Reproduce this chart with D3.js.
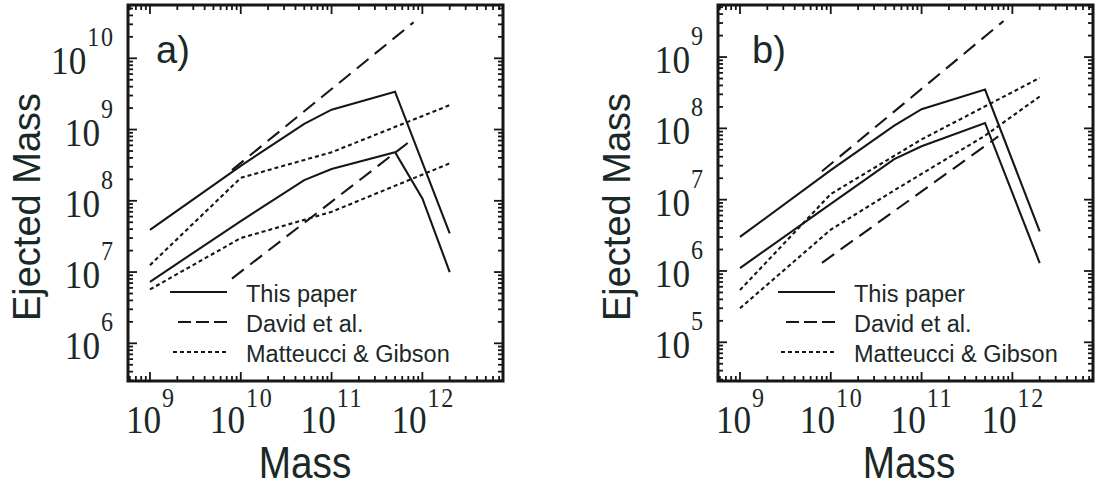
<!DOCTYPE html>
<html><head><meta charset="utf-8">
<script src="https://cdn.jsdelivr.net/npm/d3@7"></script>
<style>body{margin:0;background:#fff}</style></head>
<body><svg id="c" width="1096" height="489" xmlns="http://www.w3.org/2000/svg"></svg>
<script>
// ---------- data ----------
const massThisPaper = [1e9, 1e10, 5e10, 1e11, 5e11, 2e12];
const massThisPaperLowA = [1e9, 1e10, 5e10, 1e11, 5e11, 1e12, 2e12];
const massDavid = [8e9, 8e11];
const massDavidLowB = [8e9, 7e11];
const massMGHigh = [1e9, 1e10, 1e11, 2e12];
const massMGLow = [1e9, 1e10, 5e10, 1e11, 2e12];
const massMGLowB = [1e9, 1e10, 5e10, 1e11, 5e11, 2e12];

// panel a
const aThisPaperHigh = [3.9e7, 3.1e8, 1.2e9, 1.9e9, 3.4e9, 3.5e7];
const aThisPaperLow  = [7.3e6, 5.2e7, 1.95e8, 2.8e8, 4.8e8, 1.08e8, 1.0e7];
const aDavidHigh = [2.7e8, 3.2e10];
const aDavidLow  = [8.1e6, 7.5e8];
const aMGHigh = [1.25e7, 2.1e8, 4.8e8, 2.2e9];
const aMGLow  = [5.7e6, 3.0e7, 5.4e7, 7.0e7, 3.35e8];

// panel b
const bThisPaperHigh = [3.0e6, 2.6e7, 1.09e8, 1.86e8, 3.5e8, 3.6e6];
const bThisPaperLow  = [1.1e6, 8.7e6, 3.7e7, 5.6e7, 1.19e8, 1.29e6];
const bDavidHigh = [2.5e7, 3.2e9];
const bDavidLow  = [1.3e6, 7.7e7];
const bMGHigh = [5.4e5, 1.2e7, 7.0e7, 5.1e8];
const bMGLow  = [3.0e5, 3.8e6, 1.35e7, 2.3e7, 7.9e7, 2.8e8];

const xTickExps = [9, 10, 11, 12];
const aYTickExps = [6, 7, 8, 9, 10];
const bYTickExps = [5, 6, 7, 8, 9];
const legendLabels = ["This paper", "David et al.", "Matteucci & Gibson"];
const panelLabels = ["a)", "b)"];

// ---------- drawing ----------
const svg = d3.select("#c");
const INK = "#161616", TXT = "#1a2828";
const DASH = {solid: null, dashed: "15,8", dotted: "4,3"};
const LEGDASH = {solid: null, dashed: "13,5", dotted: "4,3"};

const panels = [
  {x0: 128, x1: 503, yDom: [Math.pow(10,5.471), Math.pow(10,10.748)], yExps: aYTickExps,
   label: panelLabels[0], labelX: 156, legX: 170, legTextX: 246, massX: 305,
   series: [
     {m: massThisPaper, v: aThisPaperHigh, s: "solid"},
     {m: massThisPaperLowA, v: aThisPaperLow, s: "solid"},
     {m: massDavid, v: aDavidHigh, s: "dashed"},
     {m: massDavid, v: aDavidLow, s: "dashed"},
     {m: massMGHigh, v: aMGHigh, s: "dotted"},
     {m: massMGLow, v: aMGLow, s: "dotted"}]},
  {x0: 718, x1: 1093, yDom: [Math.pow(10,4.457), Math.pow(10,9.73)], yExps: bYTickExps,
   label: panelLabels[1], labelX: 752, legX: 778, legTextX: 854, massX: 909,
   series: [
     {m: massThisPaper, v: bThisPaperHigh, s: "solid"},
     {m: massThisPaper, v: bThisPaperLow, s: "solid"},
     {m: massDavid, v: bDavidHigh, s: "dashed"},
     {m: massDavidLowB, v: bDavidLow, s: "dashed"},
     {m: massMGHigh, v: bMGHigh, s: "dotted"},
     {m: massMGLowB, v: bMGLow, s: "dotted"}]}
];

const TOP = 5, BOT = 381;
const xDom = [Math.pow(10, 8.758), Math.pow(10, 12.888)];

function logTicks(dom) {
  const lo = Math.log10(dom[0]), hi = Math.log10(dom[1]);
  const out = [];
  for (let d = Math.floor(lo); d <= Math.ceil(hi); d++) {
    for (let m = 1; m <= 9; m++) {
      const v = m * Math.pow(10, d);
      const l = Math.log10(v);
      if (l >= lo && l <= hi) out.push({v, major: m === 1});
    }
  }
  return out;
}

// "10^exp" as one text element: main digits + raised exponent
const SX = 0.86, MAINF = 41, SUPF = 28, SUPLS = 2;
function powerLabel(g, exp, x, y, anchor, mainBaseOff, supRise) {
  const nd = String(exp).length;
  const mainW = MAINF;
  const supW = nd * (SUPF * 0.5 + SUPLS);
  const total = (mainW + 1 + supW - SUPLS) * SX;
  const start = anchor === "middle" ? x - total / 2 : x - total;
  const t = g.append("text")
    .attr("transform", `translate(${start},${y + mainBaseOff}) scale(${SX},1)`)
    .attr("font-family", "'Liberation Serif', 'Times New Roman', serif")
    .attr("fill", TXT);
  t.append("tspan").attr("font-size", MAINF).text("10");
  t.append("tspan").attr("font-size", SUPF).attr("dx", 1).attr("dy", -supRise)
    .attr("letter-spacing", SUPLS).text(String(exp));
}

panels.forEach(p => {
  const x = d3.scaleLog().domain(xDom).range([p.x0, p.x1]);
  const y = d3.scaleLog().domain(p.yDom).range([BOT, TOP]);
  const g = svg.append("g");

  // ticks (inward on all four sides)
  const tg = g.append("g").attr("stroke", INK).attr("stroke-width", 1.8);
  logTicks(xDom).forEach(t => {
    const px = x(t.v), L = t.major ? 9 : 5;
    tg.append("line").attr("x1", px).attr("x2", px).attr("y1", BOT).attr("y2", BOT - L);
    tg.append("line").attr("x1", px).attr("x2", px).attr("y1", TOP).attr("y2", TOP + L);
  });
  logTicks(p.yDom).forEach(t => {
    const py = y(t.v), L = t.major ? 9 : 5;
    tg.append("line").attr("y1", py).attr("y2", py).attr("x1", p.x0).attr("x2", p.x0 + L);
    tg.append("line").attr("y1", py).attr("y2", py).attr("x1", p.x1).attr("x2", p.x1 - L);
  });

  // frame
  g.append("rect").attr("x", p.x0).attr("y", TOP).attr("width", p.x1 - p.x0).attr("height", BOT - TOP)
    .attr("fill", "none").attr("stroke", INK).attr("stroke-width", 3);

  // tick labels
  xTickExps.forEach(e => powerLabel(g, e, x(Math.pow(10, e)), 0, "middle", 433, 26));
  p.yExps.forEach(e => powerLabel(g, e, p.x0 - 15, y(Math.pow(10, e)), "end", 16, 28));

  // axis titles
  g.append("text").attr("transform", `translate(${p.x0 - 88},207) rotate(-90)`)
    .attr("text-anchor", "middle").attr("font-family", "'Liberation Sans', Arial, sans-serif")
    .attr("font-size", 38).attr("fill", TXT).text("Ejected Mass");
  g.append("text").attr("transform", `translate(${p.massX},478) scale(0.88,1)`)
    .attr("text-anchor", "middle").attr("font-family", "'Liberation Sans', Arial, sans-serif")
    .attr("font-size", 44).attr("fill", TXT).text("Mass");

  // panel label
  g.append("text").attr("x", p.labelX).attr("y", 63)
    .attr("font-family", "'Liberation Sans', Arial, sans-serif")
    .attr("font-size", 38).attr("fill", TXT).text(p.label);

  // series
  const line = d3.line().x(d => x(d[0])).y(d => y(d[1]));
  p.series.forEach(s => {
    g.append("path").datum(d3.zip(s.m, s.v)).attr("d", line)
      .attr("fill", "none").attr("stroke", INK).attr("stroke-width", 2.1)
      .attr("stroke-dasharray", DASH[s.s]);
  });

  // legend
  const styles = ["solid", "dashed", "dotted"];
  const starts = [p.legX, p.legX + 8, p.legX + 3];
  styles.forEach((st, i) => {
    const yy = 292 + i * 30;
    g.append("line").attr("x1", starts[i]).attr("x2", p.legX + 57).attr("y1", yy).attr("y2", yy)
      .attr("stroke", INK).attr("stroke-width", 2).attr("stroke-dasharray", LEGDASH[st]);
    g.append("text").attr("x", p.legTextX).attr("y", yy + 10)
      .attr("font-family", "'Liberation Sans', Arial, sans-serif")
      .attr("font-size", 23.5).attr("fill", TXT).text(legendLabels[i]);
  });
});
</script>
</body></html>
